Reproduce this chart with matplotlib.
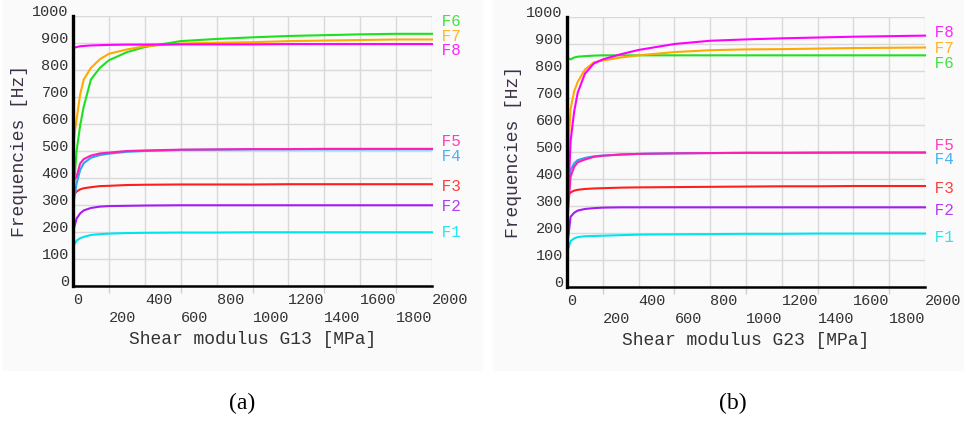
import numpy as np
import matplotlib
matplotlib.use('Agg')
import matplotlib.pyplot as plt
from matplotlib.patches import Rectangle

# shear modulus values [MPa] where frequencies were read
modulus = [5, 20, 40, 60, 100, 150, 200, 300, 400, 600, 800, 1000, 1200, 1400, 1600, 1800, 2000]

# (a) frequencies vs G13 [Hz]
f1_a = [152, 168, 177, 182, 189, 192, 194, 196, 197, 198, 198, 199, 199, 199, 199, 199, 199]
f2_a = [213, 250, 269, 280, 289, 294, 296, 297, 298, 299, 299, 299, 299, 299, 299, 299, 299]
f3_a = [337, 350, 358, 362, 366, 370, 371, 374, 375, 376, 376, 376, 377, 377, 377, 377, 377]
f4_a = [318, 380, 430, 455, 475, 485, 490, 497, 500, 504, 505, 506, 506, 506, 506, 506, 506]
f5_a = [390, 405, 454, 470, 483, 491, 494, 500, 502, 505, 506, 507, 507, 508, 508, 508, 508]
f6_a = [366, 500, 595, 665, 765, 808, 836, 866, 885, 907, 915, 921, 926, 929, 932, 934, 934]
f7_a = [545, 617, 710, 765, 808, 840, 860, 876, 888, 898, 901, 903, 907, 909, 911, 913, 913]
f8_a = [882, 885, 888, 889, 891, 892, 893, 894, 894, 895, 895, 895, 896, 896, 896, 896, 896]

# (b) frequencies vs G23 [Hz]
f1_b = [136, 170, 180, 185, 188, 189, 190, 192, 194, 195, 196, 197, 197, 198, 198, 198, 198]
f2_b = [173, 260, 275, 283, 289, 292, 294, 295, 295, 295, 295, 295, 295, 295, 295, 295, 295]
f3_b = [338, 350, 357, 360, 363, 365, 366, 368, 369, 370, 371, 372, 373, 373, 374, 374, 374]
f4_b = [371, 433, 458, 470, 478, 484, 487, 490, 493, 495, 496, 497, 497, 497, 498, 498, 498]
f5_b = [272, 408, 445, 462, 472, 482, 486, 491, 493, 495, 496, 497, 497, 498, 498, 498, 498]
f6_b = [848, 843, 850, 853, 855, 857, 858, 858, 858, 858, 858, 858, 858, 858, 858, 858, 858]
f7_b = [480, 660, 725, 760, 805, 832, 839, 850, 858, 870, 877, 880, 881, 883, 885, 886, 887]
f8_b = [300, 540, 650, 720, 790, 828, 843, 862, 878, 900, 912, 917, 921, 924, 927, 929, 931]

names = ['F1', 'F2', 'F3', 'F4', 'F5', 'F6', 'F7', 'F8']
colors = ['#00e4f0', '#a61cf0', '#ff1e1e', '#2aa6f5', '#ff1eb4', '#1ee01e', '#ffaa00', '#ff00ff']

# where the end labels sit (moved apart so they don't overlap)
label_y_a = [199, 294, 368, 479, 534, 978, 924, 874]
label_y_b = [183, 285, 365, 474, 523, 827, 882, 941]

series_a = [f1_a, f2_a, f3_a, f4_a, f5_a, f6_a, f7_a, f8_a]
series_b = [f1_b, f2_b, f3_b, f4_b, f5_b, f6_b, f7_b, f8_b]

mono = 'Liberation Mono'
W, H = 966, 421
fig = plt.figure(figsize=(W / 100, H / 100), dpi=100)
fig.patch.set_facecolor('white')

# light panel backgrounds of the two screenshots
fig.patches.append(Rectangle((3 / W, 1 - 370 / H), 479 / W, 370 / H,
                             transform=fig.transFigure, color='#fafafa', zorder=-10))
fig.patches.append(Rectangle((493 / W, 1 - 370 / H), 470 / W, 370 / H,
                             transform=fig.transFigure, color='#fafafa', zorder=-10))

panels = [
    ([73, 16, 432, 286], series_a, label_y_a, 'Shear modulus G13 [MPa]', '(a)', 242),
    ([567, 17, 925, 287], series_b, label_y_b, 'Shear modulus G23 [MPa]', '(b)', 733),
]

for box, series, label_y, xlabel, caption, cx in panels:
    x0, y0, x1, y1 = box
    ax = fig.add_axes([x0 / W, 1 - y1 / H, (x1 - x0) / W, (y1 - y0) / H])
    ax.set_facecolor('none')
    ax.set_xlim(0, 2000)
    ax.set_ylim(0, 1000)

    for vals, name, c, ly in zip(series, names, colors, label_y):
        ax.plot(modulus, vals, color=c, lw=1.5, clip_on=False, zorder=3)
        ax.text(2000, ly, ' ' + name, color=c, fontsize=11.5, family=mono,
                ha='left', va='center', alpha=0.85)

    ax.set_xticks([0, 400, 800, 1200, 1600, 2000])
    ax.set_xticklabels(['0', '400', '800', '1200', '1600', '2000'])
    ax.set_xticks([200, 600, 1000, 1400, 1800], minor=True)
    ax.set_xticklabels(['200', '600', '1000', '1400', '1800'], minor=True)
    ax.set_yticks(np.arange(0, 1001, 100))
    ax.tick_params(axis='x', which='major', length=0, pad=5, labelsize=11, labelcolor='#333333')
    ax.tick_params(axis='x', which='minor', length=5, width=1, color='#d0d0d0', pad=13,
                   labelsize=11, labelcolor='#333333')
    ax.tick_params(axis='y', length=0, pad=3, labelsize=11, labelcolor='#333333')
    for lbl in ax.get_xticklabels(minor=False) + ax.get_xticklabels(minor=True):
        lbl.set_horizontalalignment('left')
        lbl.set_family(mono)
    for lbl in ax.get_yticklabels():
        lbl.set_verticalalignment('baseline')
        lbl.set_family(mono)

    ax.grid(True, which='both', color='#d9d9d9', lw=1, zorder=0)
    ax.set_axisbelow(True)
    for side in ['top', 'right']:
        ax.spines[side].set_visible(False)
    ax.spines['left'].set_linewidth(2.4)
    ax.spines['bottom'].set_linewidth(1.8)
    ax.spines['left'].set_zorder(5)

    ax.set_xlabel(xlabel, fontsize=13, family=mono, color='#333333', labelpad=4)
    ax.set_ylabel('Frequencies [Hz]', fontsize=13, family=mono, color='#3c3046', labelpad=3)

    fig.text(cx / W, 1 - 403 / H, caption, fontsize=17, family='Liberation Serif',
             ha='center', va='center')

fig.savefig('out.png', dpi=100, facecolor='white')
